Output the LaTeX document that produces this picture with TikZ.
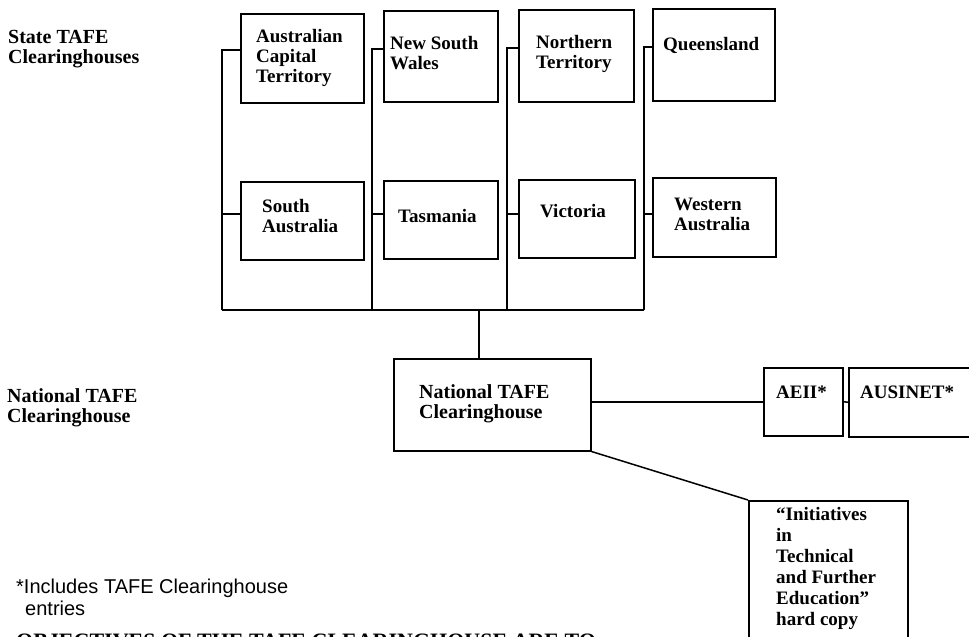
\documentclass[tikz,border=0pt]{standalone}
\usepackage{fontspec}
\setmainfont{Liberation Serif}
\newfontfamily\ftnfont{Liberation Sans}
\begin{document}
\begin{tikzpicture}[x=1pt,y=-1pt,
  box/.style={draw, line width=1.5pt, anchor=north west, inner sep=0pt},
  ln/.style={line width=1.5pt},
  txt/.style={anchor=base west, inner sep=0pt, align=left, font=\fontsize{19}{20}\selectfont\bfseries},
  lbl/.style={anchor=base west, inner sep=0pt, align=left, font=\fontsize{20}{20}\selectfont\bfseries},
  ftn/.style={anchor=base west, inner sep=0pt, align=left, font=\fontsize{20}{22}\selectfont\ftnfont}]
\clip (0,0) rectangle (969,637);
\fill[white] (0,0) rectangle (969,637);
% state boxes
\node[box, minimum width=123pt, minimum height=89pt] (act) at (240,13) {};
\node[box, minimum width=114pt, minimum height=91pt] (nsw) at (383,10) {};
\node[box, minimum width=115pt, minimum height=92pt] (nt) at (518,9) {};
\node[box, minimum width=122pt, minimum height=92pt] (qld) at (652,8) {};
\node[box, minimum width=123pt, minimum height=78pt] (sa) at (240,181) {};
\node[box, minimum width=114pt, minimum height=78pt] (tas) at (383,180) {};
\node[box, minimum width=116pt, minimum height=78pt] (vic) at (518,179) {};
\node[box, minimum width=123pt, minimum height=79pt] (wa) at (652,177) {};
% national
\node[box, minimum width=197pt, minimum height=92pt] (nat) at (393,358) {};
\node[box, minimum width=79pt, minimum height=68pt] (aeii) at (763,367) {};
\node[box, minimum width=130pt, minimum height=69pt] (aus) at (848,367) {};
\node[box, minimum width=159pt, minimum height=160pt] (init) at (748,500) {};
% box texts (anchor = baseline of the last line)
\node[txt] (tact) at (256,82) {Australian\\Capital\\Territory};
\node[txt] (tnsw) at (390,69) {New South\\Wales};
\node[txt] (tnt) at (536,68) {Northern\\Territory};
\node[txt] (tqld) at (663,50) {Queensland};
\node[txt] (tsa) at (262,232) {South\\Australia};
\node[txt] (ttas) at (398,222) {Tasmania};
\node[txt] (tvic) at (540,217) {Victoria};
\node[txt] (twa) at (674,230) {Western\\Australia};
\node[txt, font=\fontsize{20}{20}\selectfont\bfseries] (tnat) at (419,418) {National TAFE\\Clearinghouse};
\node[txt] (taeii) at (776,398) {AEII*};
\node[txt] (taus) at (860,398) {AUSINET*};
\node[txt, font=\fontsize{19}{21}\selectfont\bfseries] (tinit) at (776,625) {``Initiatives\\in\\Technical\\and Further\\Education''\\hard copy};
% side labels
\node[lbl] (lstate) at (8,63) {State TAFE\\Clearinghouses};
\node[lbl] (lnat) at (7,422) {National TAFE\\Clearinghouse};
\node[ftn] (lftn) at (16,615) {*Includes TAFE Clearinghouse\\\hspace*{9pt}entries};
\node[lbl, font=\fontsize{22}{22}\selectfont\bfseries] (lobj) at (16,648) {OBJECTIVES OF THE TAFE CLEARINGHOUSE ARE TO};
% buses
\coordinate (b1) at (222,310);
\coordinate (b2) at (372,310);
\coordinate (b3) at (507,310);
\coordinate (b4) at (644,310);
\coordinate (j) at (479,310);
\draw[ln] ([yshift=-37pt]act.north west) -| (b1);
\draw[ln] ([yshift=-39pt]nsw.north west) -| (b2);
\draw[ln] ([yshift=-39pt]nt.north west) -| (b3);
\draw[ln] ([yshift=-39pt]qld.north west) -| (b4);
\draw[ln] ([yshift=-33pt]sa.north west) -- ++(-18,0);
\draw[ln] ([yshift=-34pt]tas.north west) -- ++(-11,0);
\draw[ln] ([yshift=-35pt]vic.north west) -- ++(-11,0);
\draw[ln] ([yshift=-37pt]wa.north west) -- ++(-8,0);
\draw[ln] (b1) -- (b4);
\draw[ln] (j) -- (j |- nat.north);
\draw[ln] (aeii.west -| nat.east) -- (aeii.west);
\draw[ln] (aeii.east) -- (aus.west);
\draw[ln] (nat.south east) -- (init.north west);
\end{tikzpicture}
\end{document}
